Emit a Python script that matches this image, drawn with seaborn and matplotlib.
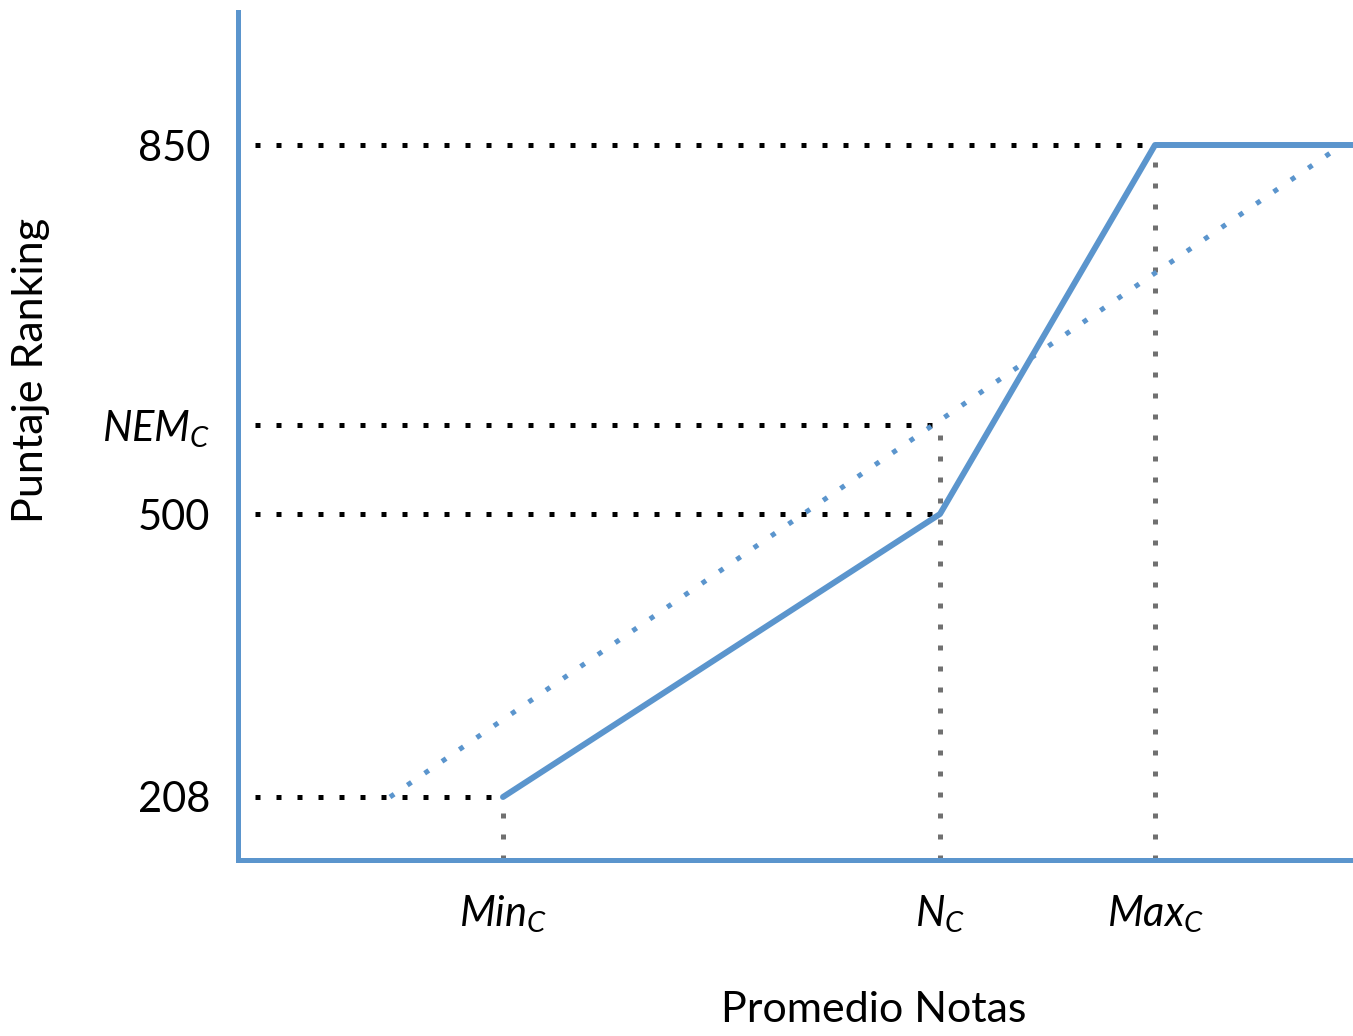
import numpy as np
import pandas as pd
import seaborn as sns
import matplotlib.pyplot as plt

# esquema (unidades arbitrarias del dibujo)
x_min_c = 2.65
x_n_c = 7.02
x_max_c = 9.17
x_end = 11.15

y_labels = ['850', '$NEM_C$', '500', '208']
y_levels = [7.15, 4.35, 3.46, 0.63]
x_labels = ['$Min_C$', '$N_C$', '$Max_C$']
x_levels = [x_min_c, x_n_c, x_max_c]

# curva de puntaje ranking (linea solida)
rank_x = [x_min_c, x_n_c, x_max_c, x_end]
rank_y = [0.63, 3.46, 7.15, 7.15]

# recta NEM (linea punteada azul)
nem_x = [1.52, 11.04]
nem_y = [0.63, 7.15]

sns.set_style('white')
plt.rcParams['font.family'] = ['Lato', 'DejaVu Sans']
plt.rcParams['mathtext.fontset'] = 'custom'
plt.rcParams['mathtext.it'] = 'Lato:italic'
plt.rcParams['mathtext.rm'] = 'Lato'
plt.rcParams['text.color'] = 'black'
plt.rcParams['axes.labelcolor'] = 'black'
plt.rcParams['xtick.color'] = 'black'
plt.rcParams['ytick.color'] = 'black'

blue = '#5b95cd'
fig = plt.figure(figsize=(13.53, 10.36), dpi=100)
ax = fig.add_axes([238 / 1353, 176 / 1036, 1115 / 1353, 848 / 1036])

dots = (0, (1.0, 3.2))

# lineas guia horizontales
guides_h = pd.DataFrame({'y': y_levels, 'x_to': [x_max_c, x_n_c, x_n_c, x_min_c]})
for _, r in guides_h.iterrows():
    ax.plot([0.17, r['x_to']], [r['y'], r['y']], color='black', lw=3.6,
            linestyle=dots, zorder=2)

# lineas guia verticales
for xv, yv in zip(x_levels, [0.63, 4.35, 7.15]):
    ax.plot([xv, xv], [0, yv], color='#707070', lw=3.6, linestyle=dots, zorder=2)

sns.lineplot(x=nem_x, y=nem_y, ax=ax, color=blue, lw=3.6, linestyle=dots,
             zorder=3)
sns.lineplot(x=rank_x, y=rank_y, ax=ax, color=blue, lw=4.3, zorder=4,
             clip_on=False)

ax.set_xlim(0, x_end)
ax.set_ylim(0, 8.48)

ax.set_yticks(y_levels, y_labels)
ax.set_xticks(x_levels, x_labels)
ax.tick_params(axis='y', length=0, pad=20, labelsize=30)
ax.tick_params(axis='x', length=0, pad=24, labelsize=30)

for s in ['top', 'right']:
    ax.spines[s].set_visible(False)
for s in ['left', 'bottom']:
    ax.spines[s].set_color(blue)
    ax.spines[s].set_linewidth(3.6)

ax.set_xlabel('Promedio Notas', fontsize=31)
ax.set_ylabel('Puntaje Ranking', fontsize=31)
ax.xaxis.set_label_coords(0.57, -0.155)
ax.yaxis.set_label_coords(-0.169, 0.577)

fig.savefig('out.png', dpi=100)
